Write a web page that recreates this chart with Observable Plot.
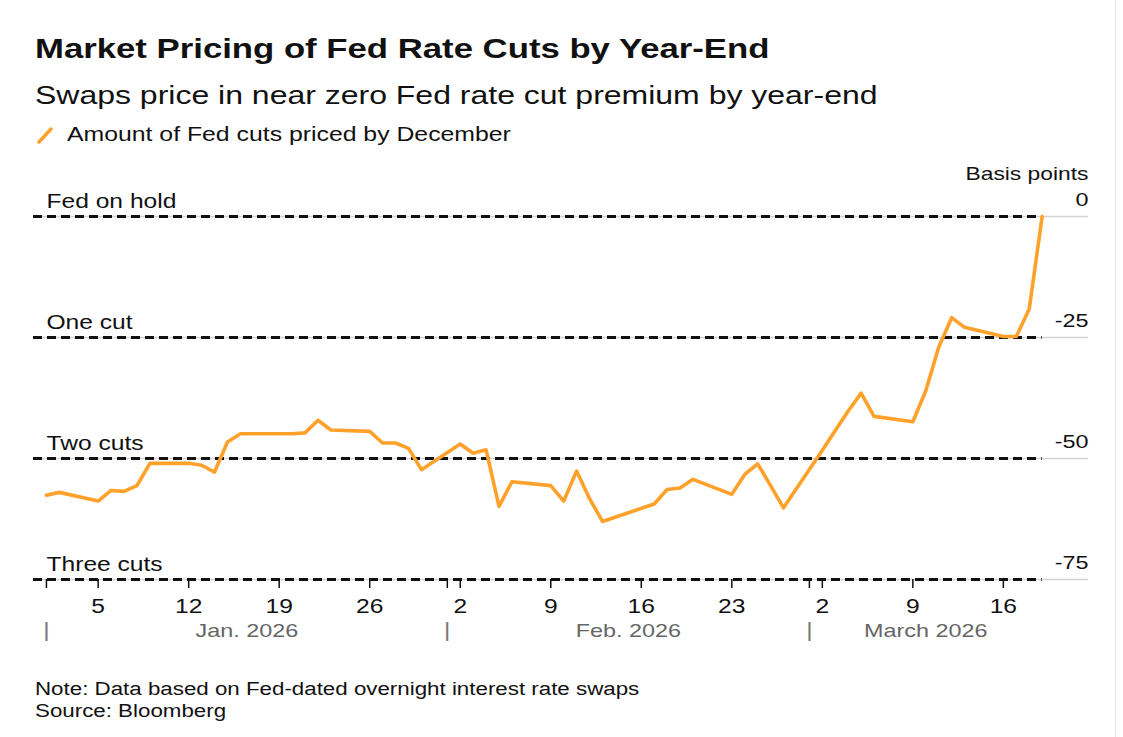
<!DOCTYPE html>
<html>
<head>
<meta charset="utf-8">
<script src="https://cdn.jsdelivr.net/npm/d3@7"></script>
<script src="https://cdn.jsdelivr.net/npm/@observablehq/plot@0.6"></script>
<style>
  html, body { margin: 0; padding: 0; background: #fff; }
  body { width: 1123px; height: 737px; position: relative; overflow: hidden; font-family: "Liberation Sans", Arial, sans-serif; color: #111; }
  .abs { position: absolute; white-space: nowrap; transform-origin: left center; }
  #edge { position: absolute; left: 1115px; top: 0; width: 1px; height: 737px; background: #e6e6e6; }
  #title { left: 35px; top: 33px; font-size: 28px; font-weight: bold; transform: scaleX(1.24); }
  #subtitle { left: 35px; top: 80px; font-size: 26px; transform: scaleX(1.23); }
  #legend { left: 37px; top: 123px; font-size: 20px; display: flex; align-items: center; }
  #legend svg { margin-right: 14px; }
  #legend span { display: inline-block; transform: scaleX(1.24); transform-origin: left center; }
  #units { right: 35px; top: 163px; font-size: 19px; transform: scaleX(1.2); transform-origin: right center; }
  #chart { position: absolute; left: 0; top: 155px; }
  #note { left: 35px; top: 678px; font-size: 18px; line-height: 22px; transform: scaleX(1.24); }
</style>
</head>
<body>
<div id="edge"></div>
<div id="title" class="abs">Market Pricing of Fed Rate Cuts by Year-End</div>
<div id="subtitle" class="abs">Swaps price in near zero Fed rate cut premium by year-end</div>
<div id="legend" class="abs"><svg width="16" height="18"><line x1="2" y1="16" x2="14" y2="3" stroke="#FFA12B" stroke-width="3.5" stroke-linecap="round"/></svg><span>Amount of Fed cuts priced by December</span></div>
<div id="units" class="abs">Basis points</div>
<div id="chart"></div>
<div id="note" class="abs">Note: Data based on Fed-dated overnight interest rate swaps<br>Source: Bloomberg</div>
<script>
// ---- data ----
const dates = [
  "2026-01-01","2026-01-02","2026-01-05","2026-01-06","2026-01-07","2026-01-08","2026-01-09",
  "2026-01-12","2026-01-13","2026-01-14","2026-01-15","2026-01-16",
  "2026-01-20","2026-01-21","2026-01-22","2026-01-23",
  "2026-01-26","2026-01-27","2026-01-28","2026-01-29","2026-01-30",
  "2026-02-02","2026-02-03","2026-02-04","2026-02-05","2026-02-06",
  "2026-02-09","2026-02-10","2026-02-11","2026-02-12","2026-02-13",
  "2026-02-17","2026-02-18","2026-02-19","2026-02-20",
  "2026-02-23","2026-02-24","2026-02-25","2026-02-26","2026-02-27",
  "2026-03-02","2026-03-03","2026-03-04","2026-03-05","2026-03-06",
  "2026-03-09","2026-03-10","2026-03-11","2026-03-12","2026-03-13",
  "2026-03-16","2026-03-17","2026-03-18","2026-03-19"
];
const cutsPriced = [
  -57.6, -57.0, -58.8, -56.6, -56.8, -55.6, -51.0,
  -51.0, -51.4, -52.8, -46.6, -44.9,
  -44.9, -44.7, -42.1, -44.1,
  -44.4, -46.8, -46.8, -47.9, -52.3,
  -47.0, -48.9, -48.2, -59.9, -54.8,
  -55.6, -58.8, -52.6, -58.3, -63.0,
  -59.4, -56.4, -56.1, -54.3,
  -57.4, -53.3, -51.1, -55.6, -60.2,
  -48.3, -44.2, -40.2, -36.5, -41.3,
  -42.4, -36.0, -27.0, -20.9, -22.9,
  -24.8, -24.8, -19.1, 0
];
const levels = [0, -25, -50, -75];
const levelNames = ["Fed on hold", "One cut", "Two cuts", "Three cuts"];
const weekTicks = ["2026-01-05","2026-01-12","2026-01-19","2026-01-26","2026-02-02","2026-02-09","2026-02-16","2026-02-23","2026-03-02","2026-03-09","2026-03-16"];
const monthStarts = ["2026-01-01","2026-02-01","2026-03-01"];
const monthLabels = ["Jan. 2026", "Feb. 2026", "March 2026"];
const xDomain = ["2025-12-31T00:00:00Z", "2026-03-22T14:00:00Z"];

// ---- build ----
const parse = s => new Date(s.length > 10 ? s : s + "T00:00:00Z");
const data = dates.map((d, i) => ({date: parse(d), value: cutsPriced[i]}));
const xStart = parse(xDomain[0]);
const lastDate = data[data.length - 1].date;
const monthBounds = monthStarts.map(parse).concat([lastDate]);
const monthMid = monthLabels.map((m, i) => new Date((monthBounds[i].getTime() + monthBounds[i + 1].getTime()) / 2));

const chart = Plot.plot({
  width: 1123,
  height: 500,
  marginLeft: 33,
  marginRight: 35,
  marginTop: 61,
  marginBottom: 76,
  style: {fontFamily: "Liberation Sans, Arial, sans-serif", fontSize: "18px", color: "#111", background: "transparent", overflow: "visible"},
  x: {type: "utc", domain: xDomain.map(parse)},
  y: {domain: [-75, 0], axis: null},
  marks: [
    Plot.ruleY(levels, {stroke: "#d4d4d4", strokeWidth: 1.3}),
    Plot.ruleY(levels, {x1: () => xStart, x2: () => lastDate, stroke: "#111", strokeWidth: 2.8, strokeDasharray: "9,5"}),
    Plot.text(levels, {x: () => xStart, y: d => d, text: (d, i) => levelNames[i], textAnchor: "start", dx: 13, dy: -15, fontSize: 20, fill: "#111"}),
    Plot.text(levels, {y: d => d, text: d => String(d), frameAnchor: "right", textAnchor: "end", dy: -17, fontSize: 19, fill: "#111"}),
    Plot.axisX({ticks: weekTicks.map(parse), tickFormat: d => String(d.getUTCDate()), tickSize: 9, tickPadding: 10, fontSize: 20, stroke: "#111", strokeWidth: 1.5, fill: "#111", label: null}),
    Plot.axisX({ticks: monthStarts.map(parse), tickFormat: () => "", tickSize: 9, stroke: "#111", strokeWidth: 1.5, label: null}),
    Plot.text(monthStarts, {x: parse, text: () => "|", frameAnchor: "bottom", dy: 57, fontSize: 20, fill: "#777"}),
    Plot.text(monthLabels, {x: (d, i) => monthMid[i], text: d => d, frameAnchor: "bottom", dy: 57, fontSize: 19, fill: "#666", letterSpacing: "1.5px"}),
    Plot.line(data, {x: "date", y: "value", stroke: "#FFA12B", strokeWidth: 3.6, strokeLinejoin: "round", strokeLinecap: "round"})
  ]
});
document.getElementById("chart").appendChild(chart);

// widen chart text horizontally about its anchor, like the reference typeface
const stretch = 1.23;
chart.querySelectorAll("text").forEach(t => {
  const bb = t.getBBox();
  const anchor = getComputedStyle(t).textAnchor;
  const ax = anchor === "end" ? bb.x + bb.width : anchor === "middle" ? bb.x + bb.width / 2 : bb.x;
  const prev = t.getAttribute("transform") || "";
  t.setAttribute("transform", `${prev} translate(${ax},0) scale(${stretch},1) translate(${-ax},0)`);
});
</script>
</body>
</html>
